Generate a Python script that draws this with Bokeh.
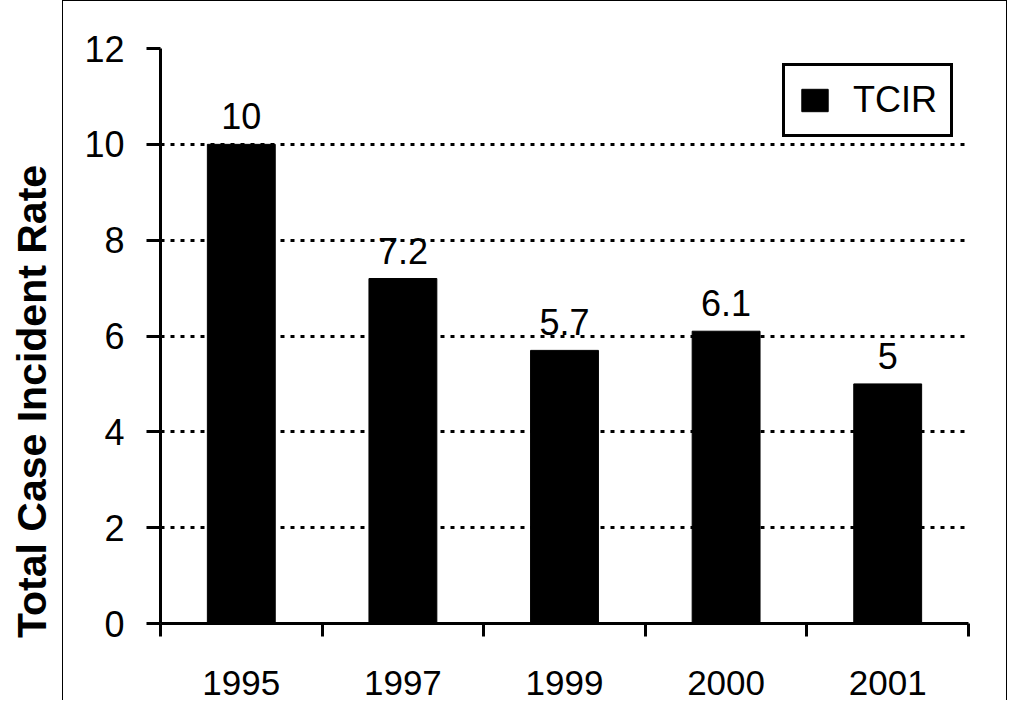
from bokeh.plotting import figure
from bokeh.models import FixedTicker, Range1d, Div, Legend, LegendItem
from bokeh.layouts import row
from bokeh.core.properties import value
from bokeh.embed import file_html
from bokeh.resources import INLINE

years = ["1995", "1997", "1999", "2000", "2001"]
tcir = [10.0, 7.2, 5.7, 6.1, 5.0]
bar_labels = ["10", "7.2", "5.7", "6.1", "5"]
y_ticks = [0, 2, 4, 6, 8, 10, 12]
grid_ticks = [2, 4, 6, 8, 10]
y_title = "Total Case Incident Rate"
series_name = "TCIR"

FONT = "Liberation Sans"
xs = list(range(1, len(years) + 1))

p = figure(width=945, height=700, output_backend="svg", toolbar_location=None,
           x_range=Range1d(0.5, len(years) + 0.5), y_range=Range1d(0, 12),
           min_border_left=97, min_border_right=40, min_border_top=47, min_border_bottom=78)
p.styles = {"border-left": "1px solid black", "border-top": "1px solid black",
            "border-right": "1px solid black"}
p.outline_line_color = None
p.background_fill_color = "white"
p.border_fill_color = "white"

r = p.vbar(x=xs, top=tcir, width=0.42, fill_color="black", line_color="black")

p.text(x=xs, y=tcir, text=bar_labels, text_align="center", text_baseline="alphabetic",
       y_offset=-28, text_font=value(FONT), text_font_size="36px", text_color="black")

# x axis
xa = p.xaxis[0]
xa.ticker = FixedTicker(ticks=xs, minor_ticks=[x - 0.5 for x in xs] + [xs[-1] + 0.5])
xa.major_label_overrides = {x: y for x, y in zip(xs, years)}
xa.major_tick_line_color = None
xa.major_tick_in = 0
xa.major_tick_out = 0
xa.minor_tick_in = 0
xa.minor_tick_out = 13
xa.minor_tick_line_width = 3
xa.minor_tick_line_color = "black"
xa.axis_line_width = 3
xa.axis_line_color = "black"
xa.major_label_text_font = FONT
xa.major_label_text_font_size = "35px"
xa.major_label_text_color = "black"
xa.major_label_standoff = 34

# y axis
ya = p.yaxis[0]
ya.ticker = FixedTicker(ticks=y_ticks)
ya.major_tick_in = 0
ya.major_tick_out = 14
ya.major_tick_line_width = 3
ya.major_tick_line_color = "black"
ya.minor_tick_line_color = None
ya.axis_line_width = 3
ya.axis_line_color = "black"
ya.major_label_text_font = FONT
ya.major_label_text_font_size = "36px"
ya.major_label_text_color = "black"
ya.major_label_standoff = 22

p.xgrid.grid_line_color = None
p.ygrid.ticker = FixedTicker(ticks=grid_ticks)
p.ygrid.grid_line_color = "black"
p.ygrid.grid_line_width = 3
p.ygrid.grid_line_dash = "4 6"

legend = Legend(items=[LegendItem(label=series_name, renderers=[r])], location="top_right")
legend.margin = 15
legend.padding = 13
legend.glyph_width = 33
legend.glyph_height = 28
legend.label_standoff = 22
legend.label_text_font = FONT
legend.label_text_font_size = "36px"
legend.label_text_color = "black"
legend.border_line_color = "black"
legend.border_line_alpha = 1.0
legend.border_line_width = 3
legend.background_fill_color = "white"
legend.background_fill_alpha = 1.0
p.add_layout(legend)

title_html = (
    '<div style="writing-mode: vertical-rl; transform: rotate(180deg); '
    'text-align: center; height: 560px; width: 52px; margin-top: 116px; '
    'line-height: 54px; white-space: nowrap; '
    "font-family: 'Liberation Sans', Arial, sans-serif; font-weight: bold; "
    'font-size: 41px; color: black;">' + y_title + '</div>'
)
title_div = Div(text=title_html, width=52, height=700)

layout = row(title_div, p)
open("out.html", "w").write(file_html(layout, INLINE))
